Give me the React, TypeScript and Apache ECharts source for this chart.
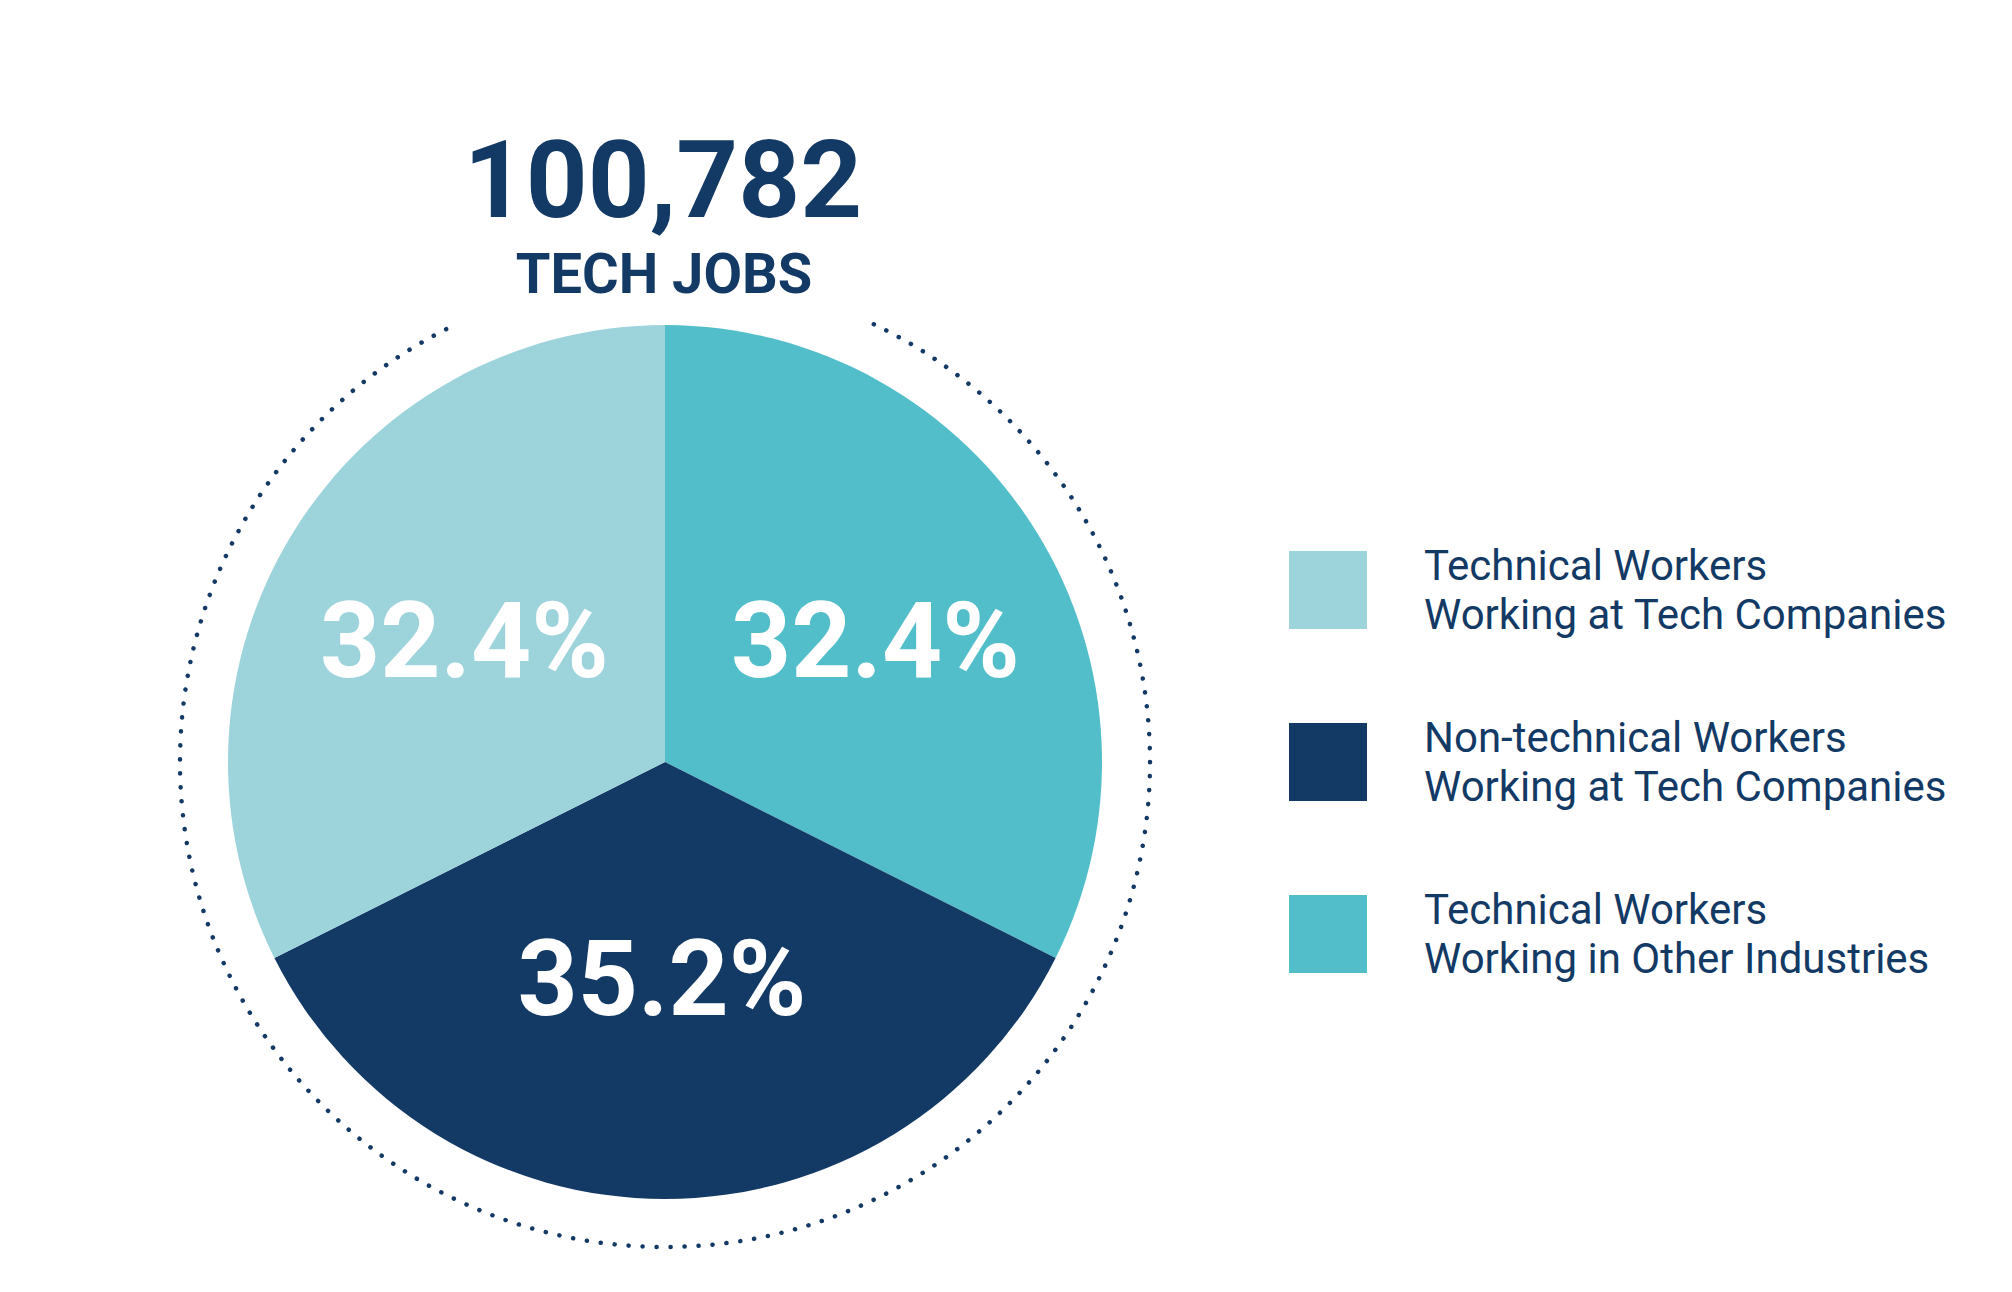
import React, { useEffect, useRef } from "react";
import * as echarts from "echarts";

const categories = [
  "Technical Workers\nWorking in Other Industries",
  "Non-technical Workers\nWorking at Tech Companies",
  "Technical Workers\nWorking at Tech Companies",
];
const shares = [32.4, 35.2, 32.4];
const colors = ["#52bec9", "#133a65", "#9dd4db"];
const legendOrder = [
  "Technical Workers\nWorking at Tech Companies",
  "Non-technical Workers\nWorking at Tech Companies",
  "Technical Workers\nWorking in Other Industries",
];
const totalLabel = "100,782";
const totalCaption = "TECH JOBS";

const NAVY = "#133a65";
const CX = 665;
const CY = 762;
const R = 437;
const RING = 485;
// small nudges of the in-slice labels (px), by slice order
const LABEL_NUDGE = [
  [22, -4],
  [-3, -4],
  [-12, -4],
];

export default function App() {
  const ref = useRef<HTMLDivElement>(null);
  useEffect(() => {
    if (!ref.current) return;
    const chart = echarts.init(ref.current, undefined, { renderer: "svg" });
    const gap = (25.5 * Math.PI) / 180;
    chart.setOption({
      animation: false,
      backgroundColor: "#ffffff",
      legend: {
        orient: "vertical",
        left: 1289,
        top: 541,
        padding: 0,
        itemWidth: 78,
        itemHeight: 78,
        itemGap: 74,
        icon: "rect",
        selectedMode: false,
        data: legendOrder,
        textStyle: {
          color: NAVY,
          fontFamily: "Roboto",
          fontSize: 42,
          lineHeight: 49,
          padding: [0, 0, 0, 52],
        },
      },
      graphic: [
        {
          type: "arc",
          silent: true,
          shape: {
            cx: CX,
            cy: CY,
            r: RING,
            startAngle: -Math.PI / 2 + gap,
            endAngle: (3 * Math.PI) / 2 - gap,
            clockwise: true,
          },
          style: {
            stroke: NAVY,
            fill: "none",
            lineWidth: 4.5,
            lineCap: "round",
            lineDash: [0.1, 13.9],
          },
        },
        {
          type: "text",
          x: 663,
          y: 180,
          style: {
            text: totalLabel,
            fill: NAVY,
            font: "bold 108px Roboto",
            align: "center",
            verticalAlign: "middle",
          },
        },
        {
          type: "text",
          x: 664,
          y: 274,
          style: {
            text: totalCaption,
            fill: NAVY,
            font: "bold 56px Roboto",
            align: "center",
            verticalAlign: "middle",
          },
        },
      ],
      series: [
        {
          type: "pie",
          center: [CX, CY],
          radius: R,
          startAngle: 90,
          clockwise: true,
          silent: true,
          itemStyle: { borderWidth: 0 },
          label: {
            show: true,
            position: "inside",
            color: "#ffffff",
            fontFamily: "Roboto",
            fontWeight: "bold",
            fontSize: 105,
            formatter: (p: any) => `${Number(p.value).toFixed(1)}%`,
          },
          labelLayout: (p: any) => ({
            dx: LABEL_NUDGE[p.dataIndex][0],
            dy: LABEL_NUDGE[p.dataIndex][1],
          }),
          labelLine: { show: false },
          data: categories.map((name, i) => ({
            name,
            value: shares[i],
            itemStyle: { color: colors[i] },
          })),
        },
      ],
    });
    return () => chart.dispose();
  }, []);
  return (
    <div
      ref={ref}
      style={{ position: "absolute", left: 0, top: 0, width: 2012, height: 1292 }}
    />
  );
}
